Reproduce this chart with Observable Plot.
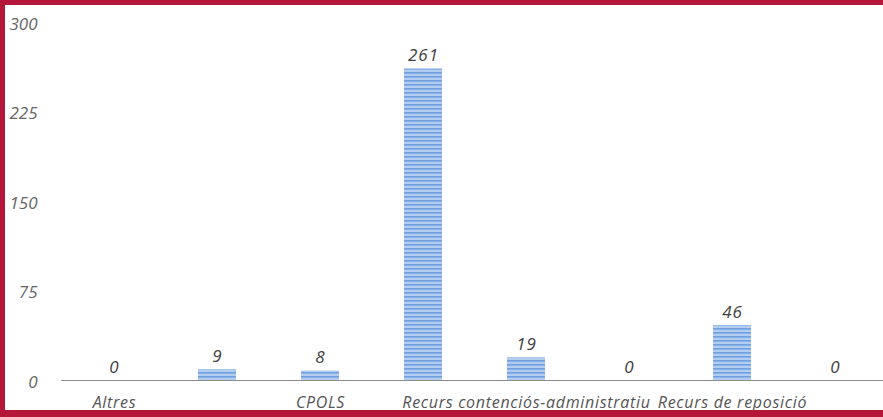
<!DOCTYPE html>
<html>
<head>
<meta charset="utf-8">
<script src="https://cdn.jsdelivr.net/npm/d3@7"></script>
<script src="https://cdn.jsdelivr.net/npm/@observablehq/plot@0.6"></script>
<style>
  html, body { margin: 0; padding: 0; background: #fff; overflow: hidden; width: 883px; height: 417px; }
  #wrap { position: relative; width: 883px; height: 417px; overflow: hidden; background: #fff; }
  #wrap svg.plot { position: absolute; left: 0; top: 0; }
  .bd { position: absolute; background: #b5173b; }
</style>
</head>
<body>
<svg width="0" height="0" style="position:absolute;left:0;top:0">
  <defs>
    <pattern id="stripes" patternUnits="userSpaceOnUse" width="8" height="4">
      <rect width="8" height="4" fill="#b3cdf0"></rect>
      <rect y="0" width="8" height="1.6" fill="#6f9fe0"></rect>
    </pattern>
  </defs>
</svg>
<div id="wrap">
  <div class="bd" style="left:0;top:0;width:883px;height:5px"></div>
  <div class="bd" style="left:0;top:0;width:5px;height:417px"></div>
  <div class="bd" style="left:0;top:410px;width:883px;height:7px"></div>
</div>
<script>
const categories = ["Altres", "", "CPOLS", "", "Recurs contenciós-administratiu", "", "Recurs de reposició", ""];
const values = [0, 9, 8, 261, 19, 0, 46, 0];
const yTicks = [0, 75, 150, 225, 300];

const data = categories.map((c, i) => ({i, label: c, value: values[i]}));
const font = "'Open Sans', sans-serif";

const chart = Plot.plot({
  width: 883,
  height: 417,
  marginLeft: 61,
  marginRight: -6,
  marginTop: 22,
  marginBottom: 37,
  style: {fontFamily: font, fontSize: "16px", fontStyle: "italic", background: "transparent"},
  x: {domain: d3.range(categories.length), paddingInner: 0.63, paddingOuter: 0.315, label: null},
  y: {domain: [0, 300], label: null},
  marks: [
    Plot.axisY({ticks: yTicks, tickSize: 0, tickPadding: 24, fill: "#666", fontSize: 17, dy: 2, label: null}),
    Plot.axisX({tickSize: 0, tickPadding: 16, fill: "#555", fontSize: 16, tickFormat: i => categories[i], label: null}),
    Plot.barY(data, {x: "i", y: "value", fill: "url(#stripes)"}),
    Plot.ruleY([0], {stroke: "#8c8c8c", strokeWidth: 1.2}),
    Plot.text(data, {x: "i", y: "value", text: d => String(d.value), dy: -13, fill: "#404040", fontSize: 17, lineAnchor: "middle"})
  ]
});
chart.classList.add("plot");
chart.querySelectorAll('[aria-label="x-axis tick label"] text').forEach(t => t.style.letterSpacing = "0.7px");
chart.querySelectorAll('[aria-label="text"] text').forEach(t => t.style.letterSpacing = "1px");
document.getElementById("wrap").prepend(chart);
</script>
</body>
</html>
